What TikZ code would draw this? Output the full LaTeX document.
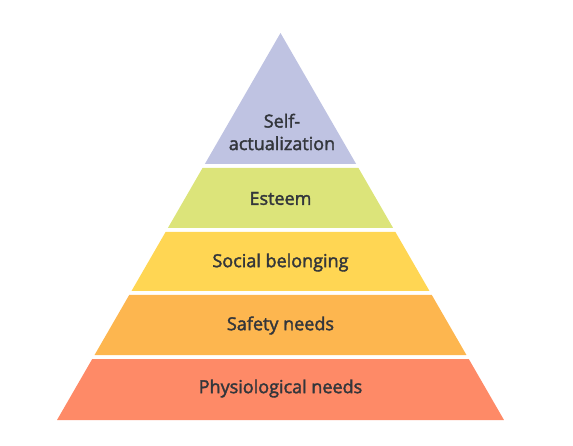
\documentclass[tikz,border=0pt]{standalone}
\usepackage{fontspec}
\setmainfont{Open Sans}
\newfontfamily\labelfont{Open Sans}[FakeBold=2]
\definecolor{selfcol}{HTML}{BFC3E2}
\definecolor{esteemcol}{HTML}{DCE47A}
\definecolor{socialcol}{HTML}{FFD653}
\definecolor{safetycol}{HTML}{FDB64F}
\definecolor{physiocol}{HTML}{FE8A67}
\definecolor{labeltext}{HTML}{33363B}
\tikzset{
  levellabel/.style={font=\labelfont\fontsize{18}{22.5}\selectfont, text=labeltext,
                     inner sep=0pt, align=center},
}

\begin{document}
\begin{tikzpicture}[x=1pt, y=-1pt]
    \useasboundingbox (0,0) rectangle (573,446);
    % top triangle
    \fill[selfcol] (280.5,33) -- (356.15,164) -- (204.85,164) -- cycle;
    % bands below, sides follow the same slope
    \foreach \ya/\yb/\col in {168/228/esteemcol, 232/291/socialcol,
                              295/355/safetycol, 359/420/physiocol} {
      \fill[\col] ({280.5-0.5775*(\ya-33)},\ya) -- ({280.5+0.5775*(\ya-33)},\ya)
        -- ({280.5+0.5775*(\yb-33)},\yb) -- ({280.5-0.5775*(\yb-33)},\yb) -- cycle;
    }
    \node[levellabel] (self)   at (282,132)   {Self-\\actualization};
    \node[levellabel] (esteem) at (280.5,198.5) {Esteem};
    \node[levellabel] (social) at (280.5,262.5) {Social belonging};
    \node[levellabel] (safety) at (280.5,325.5) {Safety needs};
    \node[levellabel] (physio) at (280.5,388.5) {Physiological needs};
\end{tikzpicture}
\end{document}
